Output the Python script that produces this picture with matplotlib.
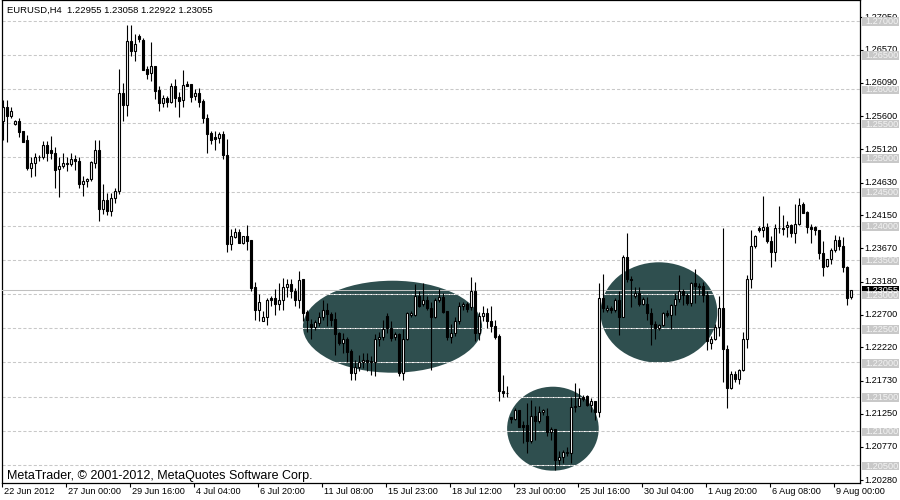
import numpy as np
import matplotlib
matplotlib.use("Agg")
import matplotlib.pyplot as plt
from matplotlib.patches import Ellipse, Rectangle
from matplotlib.transforms import blended_transform_factory

plt.rcParams['font.family'] = ['Liberation Sans', 'DejaVu Sans']

symbol_title = "EURUSD,H4  1.22955 1.23058 1.22922 1.23055"
copyright_text = "MetaTrader, \u00a9 2001-2012, MetaQuotes Software Corp."

# OHLC of each H4 bar
opens = [1.2553,1.2574,1.2560,1.2549,1.2553,1.2538,1.2525,1.2484,1.2491,1.2500,
         1.2501,1.2518,1.2510,1.2507,1.2483,1.2487,1.2490,1.2490,1.2498,1.2494,
         1.2461,1.2466,1.2468,1.2492,1.2511,1.2424,1.2438,1.2421,1.2440,1.2451,
         1.2594,1.2577,1.2670,1.2656,1.2678,1.2672,1.2629,1.2623,1.2634,1.2599,
         1.2580,1.2587,1.2581,1.2604,1.2588,1.2584,1.2607,1.2607,1.2589,1.2594,
         1.2582,1.2558,1.2535,1.2530,1.2528,1.2534,1.2503,1.2373,1.2384,1.2391,
         1.2375,1.2385,1.2379,1.2310,1.2277,1.2261,1.2266,1.2295,1.2294,1.2286,
         1.2291,1.2310,1.2315,1.2304,1.2291,1.2322,1.2274,1.2256,1.2252,1.2258,
         1.2266,1.2277,1.2271,1.2263,1.2243,1.2228,1.2235,1.2217,1.2184,1.2193,
         1.2200,1.2204,1.2202,1.2201,1.2234,1.2237,1.2268,1.2250,1.2237,1.2242,
         1.2185,1.2234,1.2270,1.2270,1.2297,1.2286,1.2292,1.2280,1.2267,1.2292,
         1.2296,1.2275,1.2237,1.2243,1.2261,1.2282,1.2286,1.2281,1.2304,1.2243,
         1.2268,1.2273,1.2260,1.2254,1.2238,1.2158,1.2156,1.2120,1.2118,1.2131,
         1.2109,1.2108,1.2085,1.2122,1.2115,1.2127,1.2122,1.2098,1.2103,1.2057,
         1.2062,1.2067,1.2067,1.2135,1.2136,1.2149,1.2151,1.2138,1.2143,1.2127,
         1.2294,1.2277,1.2279,1.2277,1.2291,1.2267,1.2354,1.2322,1.2297,1.2301,
         1.2286,1.2286,1.2272,1.2257,1.2250,1.2255,1.2272,1.2270,1.2284,1.2293,
         1.2304,1.2299,1.2287,1.2316,1.2312,1.2312,1.2299,1.2229,1.2234,1.2252,
         1.2279,1.2219,1.2162,1.2183,1.2176,1.2189,1.2235,1.2322,1.2370,1.2396,
         1.2393,1.2398,1.2378,1.2362,1.2396,1.2395,1.2398,1.2401,1.2389,1.2403,
         1.2432,1.2420,1.2398,1.2398,1.2394,1.2360,1.2341,1.2351,1.2364,1.2379,
         1.2370,1.2340,1.22955]
highs = [1.2584,1.2584,1.2573,1.2555,1.2558,1.2538,1.2533,1.2500,1.2507,1.2504,
         1.2524,1.2524,1.2531,1.2515,1.2501,1.2506,1.2500,1.2507,1.2504,1.2500,
         1.2472,1.2470,1.2495,1.2525,1.2525,1.2461,1.2448,1.2448,1.2455,1.2629,
         1.2609,1.2694,1.2693,1.2680,1.2680,1.2674,1.2634,1.2669,1.2634,1.2604,
         1.2591,1.2590,1.2608,1.2615,1.2596,1.2628,1.2612,1.2607,1.2600,1.2601,
         1.2585,1.2563,1.2538,1.2538,1.2537,1.2538,1.2527,1.2395,1.2396,1.2395,
         1.2385,1.2401,1.2379,1.2317,1.2300,1.2275,1.2294,1.2297,1.2308,1.2316,
         1.2324,1.2322,1.2322,1.2309,1.2334,1.2322,1.2277,1.2263,1.2262,1.2274,
         1.2291,1.2287,1.2274,1.2274,1.2245,1.2243,1.2237,1.2219,1.2204,1.2211,
         1.2214,1.2214,1.2209,1.2242,1.2244,1.2262,1.2272,1.2260,1.2245,1.2243,
         1.2249,1.2274,1.2276,1.2315,1.2304,1.2316,1.2297,1.2289,1.2294,1.2307,
         1.2302,1.2276,1.2256,1.2267,1.2289,1.2288,1.2288,1.2325,1.2318,1.2274,
         1.2282,1.2279,1.2283,1.2262,1.2242,1.2182,1.2165,1.2121,1.2133,1.2131,
         1.2114,1.2141,1.2145,1.2136,1.2137,1.2132,1.2133,1.2105,1.2103,1.2070,
         1.2072,1.2077,1.2150,1.2170,1.2162,1.2153,1.2153,1.2148,1.2144,1.2316,
         1.2329,1.2284,1.2283,1.2294,1.2304,1.2357,1.2389,1.2326,1.2310,1.2311,
         1.2296,1.2296,1.2279,1.2261,1.2257,1.2274,1.2277,1.2286,1.2301,1.2328,
         1.2307,1.2301,1.2318,1.2336,1.2316,1.2318,1.2304,1.2238,1.2256,1.2297,
         1.2396,1.2226,1.2187,1.2187,1.2190,1.2245,1.2328,1.2393,1.2386,1.2399,
         1.2443,1.2404,1.2385,1.2403,1.2429,1.2416,1.2407,1.2403,1.2432,1.2441,
         1.2434,1.2422,1.2403,1.2399,1.2394,1.2377,1.2352,1.2367,1.2386,1.2385,
         1.2384,1.2341,1.23058]
lows = [1.2525,1.2522,1.2557,1.2547,1.2529,1.2522,1.2481,1.2471,1.2472,1.2494,
        1.2497,1.2494,1.2498,1.2455,1.2442,1.2484,1.2480,1.2488,1.2481,1.2455,
        1.2444,1.2456,1.2466,1.2484,1.2407,1.2417,1.2416,1.2414,1.2433,1.2447,
        1.2553,1.2560,1.2648,1.2641,1.2669,1.2627,1.2615,1.2612,1.2585,1.2568,
        1.2574,1.2574,1.2579,1.2574,1.2559,1.2573,1.2604,1.2581,1.2584,1.2574,
        1.2550,1.2507,1.2520,1.2511,1.2521,1.2497,1.2362,1.2364,1.2382,1.2374,
        1.2373,1.2365,1.2304,1.2262,1.2260,1.2260,1.2255,1.2283,1.2270,1.2277,
        1.2277,1.2296,1.2295,1.2282,1.2280,1.2260,1.2245,1.2235,1.2248,1.2253,
        1.2262,1.2253,1.2253,1.2211,1.2226,1.2214,1.2201,1.2175,1.2175,1.2187,
        1.2192,1.2187,1.2182,1.2180,1.2224,1.2233,1.2243,1.2231,1.2233,1.2180,
        1.2175,1.2233,1.2267,1.2268,1.2281,1.2282,1.2277,1.2189,1.2265,1.2289,
        1.2273,1.2233,1.2228,1.2239,1.2257,1.2277,1.2274,1.2277,1.2231,1.2233,
        1.2260,1.2250,1.2245,1.2235,1.2143,1.2150,1.2150,1.2112,1.2116,1.2105,
        1.2082,1.2067,1.2082,1.2087,1.2112,1.2123,1.2092,1.2087,1.2043,1.2050,
        1.2053,1.2063,1.2053,1.2128,1.2136,1.2144,1.2136,1.2128,1.2116,1.2121,
        1.2274,1.2274,1.2273,1.2274,1.2240,1.2266,1.2318,1.2281,1.2294,1.2282,
        1.2284,1.2262,1.2226,1.2235,1.2248,1.2253,1.2266,1.2249,1.2270,1.2289,
        1.2284,1.2284,1.2283,1.2287,1.2299,1.2289,1.2218,1.2219,1.2233,1.2238,
        1.2172,1.2133,1.2161,1.2172,1.2169,1.2188,1.2221,1.2309,1.2368,1.2391,
        1.2383,1.2374,1.2340,1.2348,1.2389,1.2386,1.2384,1.2384,1.2375,1.2401,
        1.2418,1.2389,1.2375,1.2386,1.2352,1.2326,1.2339,1.2344,1.2362,1.2365,
        1.2332,1.2284,1.22922]
closes = [1.2574,1.2560,1.2567,1.2553,1.2537,1.2523,1.2484,1.2491,1.2500,1.2501,
          1.2518,1.2507,1.2507,1.2482,1.2488,1.2492,1.2492,1.2498,1.2495,1.2461,
          1.2466,1.2468,1.2493,1.2511,1.2424,1.2438,1.2421,1.2440,1.2451,1.2594,
          1.2577,1.2670,1.2656,1.2666,1.2673,1.2628,1.2622,1.2633,1.2597,1.2580,
          1.2587,1.2581,1.2604,1.2587,1.2582,1.2605,1.2604,1.2588,1.2594,1.2581,
          1.2557,1.2534,1.2526,1.2527,1.2534,1.2503,1.2373,1.2385,1.2391,1.2375,
          1.2385,1.2378,1.2309,1.2277,1.2289,1.2266,1.2292,1.2292,1.2286,1.2291,
          1.2311,1.2315,1.2304,1.2291,1.2321,1.2273,1.2262,1.2252,1.2259,1.2267,
          1.2277,1.2271,1.2262,1.2242,1.2228,1.2235,1.2216,1.2184,1.2193,1.2200,
          1.2203,1.2200,1.2200,1.2234,1.2237,1.2249,1.2250,1.2236,1.2242,1.2185,
          1.2234,1.2272,1.2272,1.2297,1.2283,1.2292,1.2280,1.2267,1.2292,1.2296,
          1.2274,1.2237,1.2243,1.2261,1.2282,1.2286,1.2278,1.2304,1.2243,1.2268,
          1.2273,1.2260,1.2254,1.2237,1.2158,1.2156,1.2155,1.2118,1.2131,1.2106,
          1.2106,1.2085,1.2122,1.2115,1.2128,1.2130,1.2098,1.2103,1.2057,1.2062,
          1.2069,1.2069,1.2135,1.2137,1.2148,1.2147,1.2138,1.2143,1.2127,1.2295,
          1.2279,1.2279,1.2277,1.2291,1.2267,1.2354,1.2322,1.2320,1.2301,1.2286,
          1.2293,1.2272,1.2256,1.2250,1.2255,1.2272,1.2270,1.2284,1.2293,1.2304,
          1.2299,1.2287,1.2316,1.2312,1.2311,1.2299,1.2231,1.2234,1.2252,1.2279,
          1.2219,1.2162,1.2183,1.2176,1.2189,1.2235,1.2322,1.2370,1.2385,1.2393,
          1.2398,1.2377,1.2362,1.2396,1.2397,1.2397,1.2401,1.2389,1.2403,1.2430,
          1.2419,1.2398,1.2395,1.2393,1.2360,1.2340,1.2351,1.2365,1.2379,1.2370,
          1.2340,1.2295,1.23055]

date_labels = ["22 Jun 2012", "27 Jun 00:00", "29 Jun 16:00", "4 Jul 04:00",
               "6 Jul 20:00", "11 Jul 08:00", "15 Jul 23:00", "18 Jul 12:00",
               "23 Jul 00:00", "25 Jul 16:00", "30 Jul 04:00", "1 Aug 20:00",
               "6 Aug 08:00", "9 Aug 00:00"]
bars_per_label = 16

scale_ticks = [1.27050, 1.26570, 1.26090, 1.25600, 1.25120, 1.24630, 1.24150,
               1.23670, 1.23180, 1.22700, 1.22220, 1.21730, 1.21250, 1.20770, 1.20280]
hline_levels = [1.270, 1.265, 1.260, 1.255, 1.250, 1.245, 1.240, 1.235,
                1.230, 1.225, 1.220, 1.215, 1.210, 1.205]
bid_price = 1.23055

# highlighted zones: (center bar, center price, width in bars, height in price)
zones = [(97.3, 1.22523, 44.8, 0.01345),
         (137.4, 1.21032, 22.9, 0.01228),
         (163.9, 1.22731, 29.2, 0.01468)]

o = np.array(opens); h = np.array(highs); l = np.array(lows); c = np.array(closes)
n = len(o)
x = np.arange(n)

W, H = 900, 500
fig = plt.figure(figsize=(9, 5), dpi=100)
fig.patch.set_facecolor('white')
ax = fig.add_axes([2 / W, 17 / H, 858 / W, 483 / H])
ax.set_facecolor('white')

ax.set_xlim(-0.33, 214.17)
ax.set_ylim(1.20238, 1.27300)

for (cx, cy, w, hh) in zones:
    ax.add_patch(Ellipse((cx, cy), w, hh, facecolor='#2F4F4F', edgecolor='none', zorder=1))

for lv in hline_levels:
    ax.axhline(lv, color='#C8C8C8', lw=0.75, linestyle=(0, (3, 2)), gapcolor='white', zorder=2)
ax.axhline(bid_price, color='#C0C0C0', lw=0.75, zorder=3)

up = c >= o
ax.vlines(x, l, h, color='black', lw=0.8, zorder=4)
bot = np.minimum(o, c)
hgt = np.abs(c - o)
ax.bar(x[up], hgt[up], bottom=bot[up], width=0.5, facecolor='white',
       edgecolor='black', linewidth=0.8, zorder=5)
ax.bar(x[~up], hgt[~up], bottom=bot[~up], width=0.5, facecolor='black',
       edgecolor='black', linewidth=0.8, zorder=5)

for s in ax.spines.values():
    s.set_color('black')
    s.set_linewidth(0.9)

# x ticks and labels
tick_pos = [k * bars_per_label - 0.25 for k in range(len(date_labels))]
ax.set_xticks(tick_pos)
ax.set_xticklabels([])
ax.tick_params(axis='x', direction='out', length=3, width=0.8, color='black')
xtr = ax.get_xaxis_transform()
for tp, lab in zip(tick_pos, date_labels):
    ax.text(tp + 0.3, -9 / 483, lab, transform=xtr, ha='left', va='center',
            fontsize=6.6, color='black', clip_on=False)

# y ticks on right
ax.yaxis.tick_right()
ax.set_yticks(scale_ticks)
ax.set_yticklabels([f"{v:.5f}" for v in scale_ticks])
ax.tick_params(axis='y', direction='out', length=2.2, width=0.8, pad=1.2,
               labelsize=6.6, colors='black')
for t in ax.get_yticklabels():
    t.set_verticalalignment('center')

btr = blended_transform_factory(fig.transFigure, ax.transData)
px = 0.0001462
box_h = 8.5 * px
# bid price label
ax.add_artist(Rectangle((862 / W, bid_price - box_h / 2), 37 / W, box_h, transform=btr,
                        facecolor='black', edgecolor='none', clip_on=False, zorder=6))
fig.text(865 / W, 0, f"{bid_price:.5f}", transform=btr, fontsize=6.6, color='white',
         ha='left', va='center', zorder=7).set_y(bid_price)
# horizontal line labels
for lv in hline_levels:
    r = Rectangle((862 / W, lv - box_h / 2 - 1.0 * px), 37 / W, box_h, transform=btr,
                  facecolor='#C8C8C8', edgecolor='none', clip_on=False, zorder=8)
    ax.add_artist(r)
    t = ax.text(865 / W, lv - 1.0 * px, f"{lv:.5f}", transform=btr, fontsize=6.6,
                color='#F4F4F4', ha='left', va='center', zorder=9, clip_on=False)

fig.text(7 / W, 1 - 10.5 / H, symbol_title, fontsize=6.8, color='black',
         ha='left', va='center')
fig.text(7 / W, 1 - 476 / H, copyright_text, fontsize=9, color='black',
         ha='left', va='center')

fig.savefig('out.png', dpi=100)
